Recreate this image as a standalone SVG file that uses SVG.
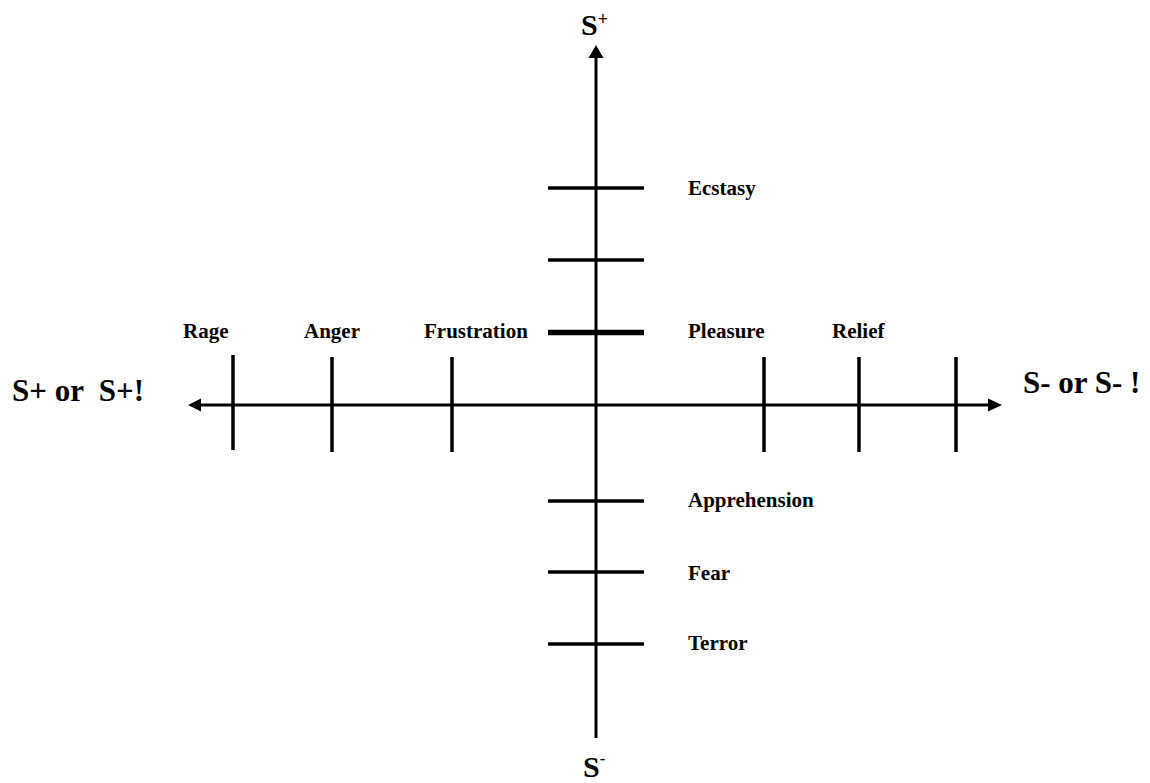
<svg xmlns="http://www.w3.org/2000/svg" width="1150" height="783" viewBox="0 0 1150 783">
<style>
text{font-family:"Liberation Serif","Times New Roman",serif;font-weight:bold;fill:#000}
.lbl{font-size:21px}
.ax{font-size:31px}
.line{stroke:#000;stroke-width:3;fill:none}
.tick{stroke:#000;stroke-width:3.5;fill:none}
</style>
<rect width="1150" height="783" fill="#fff"/>
<g id="connectors">
<line class="line" x1="596" y1="56" x2="596" y2="738"/>
<polygon points="596,45 588.5,58 603.5,58" fill="#000"/>
<line class="line" x1="198" y1="405" x2="990" y2="405"/>
<polygon points="188,405 201,398.5 201,411.5" fill="#000"/>
<polygon points="1002,405 988,398.5 988,411.5" fill="#000"/>
</g>
<g id="ticks">
<line class="tick" x1="548" y1="188" x2="644" y2="188"/>
<line class="tick" x1="548" y1="260" x2="644" y2="260"/>
<line class="tick" x1="548" y1="332.5" x2="644" y2="332.5" style="stroke-width:5.5"/>
<line class="tick" x1="548" y1="501" x2="644" y2="501"/>
<line class="tick" x1="548" y1="572" x2="644" y2="572"/>
<line class="tick" x1="548" y1="644" x2="644" y2="644"/>
<line class="tick" x1="233" y1="355" x2="233" y2="450"/>
<line class="tick" x1="332" y1="357" x2="332" y2="452"/>
<line class="tick" x1="452" y1="357" x2="452" y2="452"/>
<line class="tick" x1="764" y1="357" x2="764" y2="452"/>
<line class="tick" x1="859" y1="357" x2="859" y2="452"/>
<line class="tick" x1="956" y1="357" x2="956" y2="452"/>
</g>
<g id="axis-labels">
<text class="ax" x="581" y="35" style="font-size:30px">S<tspan dy="-10" style="font-size:18px">+</tspan></text>
<text class="ax" x="583" y="777" style="font-size:30px">S<tspan dy="-13" style="font-size:17px">-</tspan></text>
<text class="ax" x="12" y="401" xml:space="preserve">S+ or  S+!</text>
<text class="ax" x="1023" y="393" xml:space="preserve">S- or S- !</text>
</g>
<g id="emotion-labels">
<text class="lbl" x="688" y="195">Ecstasy</text>
<text class="lbl" x="688" y="338">Pleasure</text>
<text class="lbl" x="832" y="338">Relief</text>
<text class="lbl" x="183" y="338">Rage</text>
<text class="lbl" x="304" y="338">Anger</text>
<text class="lbl" x="424" y="338">Frustration</text>
<text class="lbl" x="688" y="507">Apprehension</text>
<text class="lbl" x="688" y="580">Fear</text>
<text class="lbl" x="688" y="650">Terror</text>
</g>
</svg>
